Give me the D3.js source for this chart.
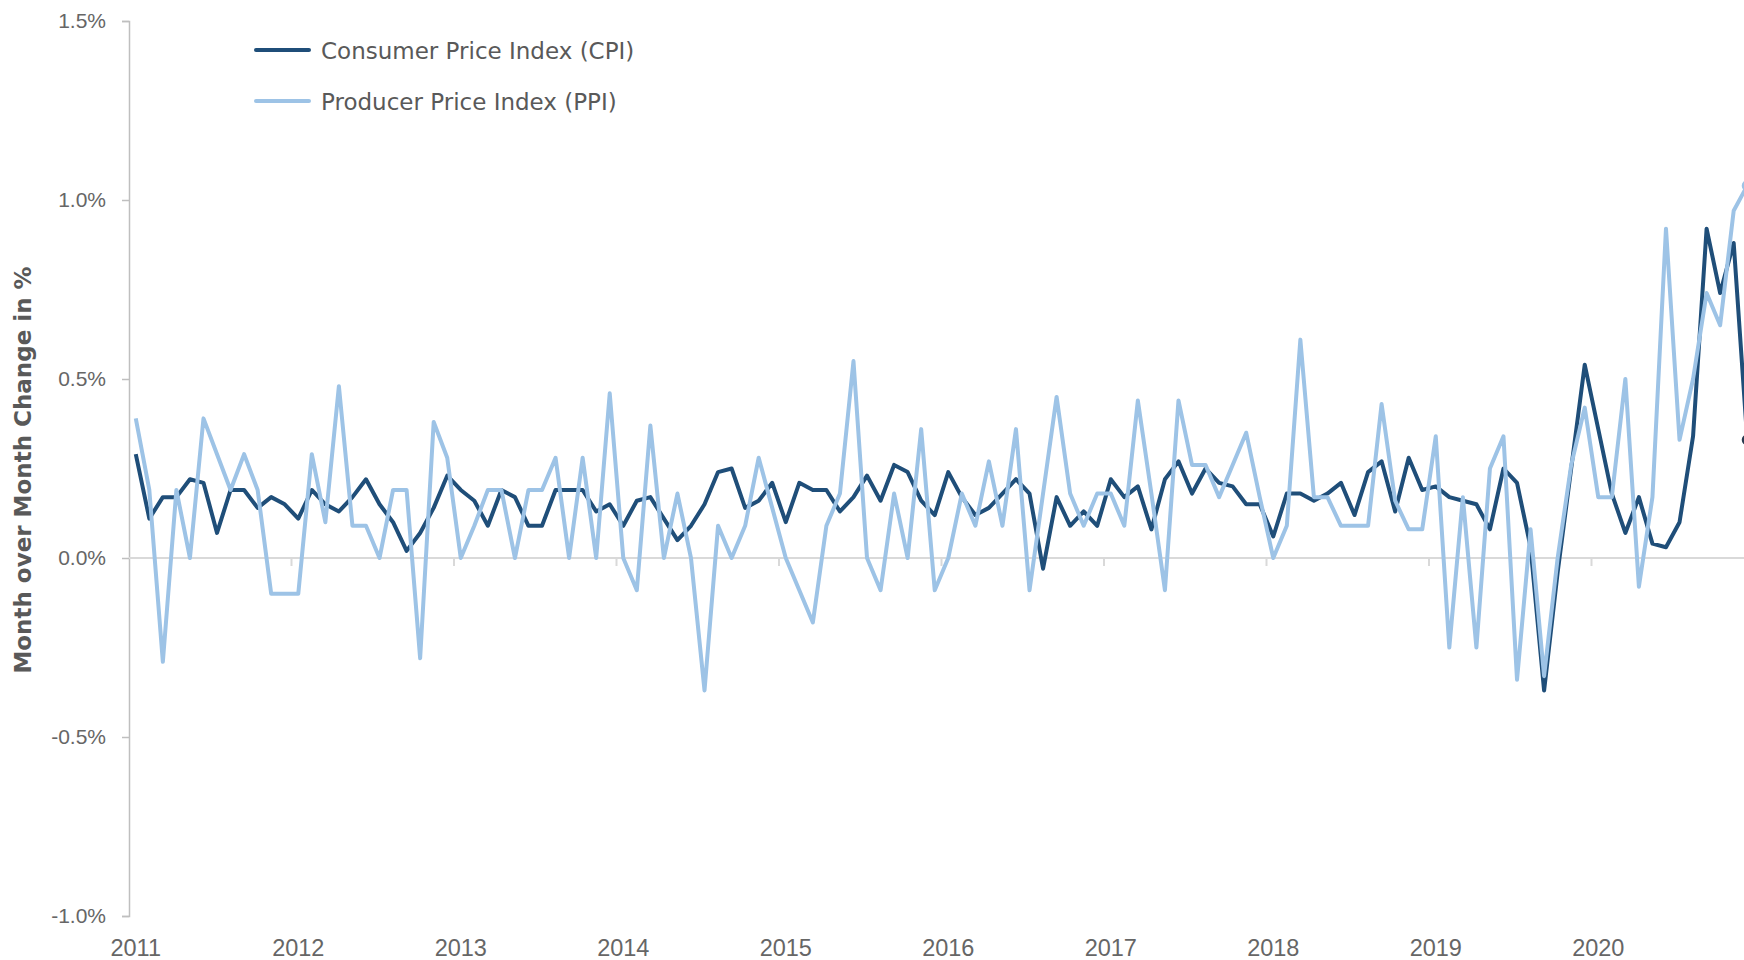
<!DOCTYPE html>
<html>
<head>
<meta charset="utf-8">
<script src="https://cdn.jsdelivr.net/npm/d3@7"></script>
<style>
  html, body { margin: 0; padding: 0; background: #ffffff; }
  svg { display: block; }
</style>
</head>
<body>
<div id="chart"></div>
<script>
// Monthly change in %, Jan 2011 .. Dec 2020
const years = ["2011", "2012", "2013", "2014", "2015", "2016", "2017", "2018", "2019", "2020"];

const cpi = [
  0.29, 0.11, 0.17, 0.17, 0.22, 0.21, 0.07, 0.19, 0.19, 0.14, 0.17, 0.15,
  0.11, 0.19, 0.15, 0.13, 0.17, 0.22, 0.15, 0.10, 0.02, 0.07, 0.14, 0.23,
  0.19, 0.16, 0.09, 0.19, 0.17, 0.09, 0.09, 0.19, 0.19, 0.19, 0.13, 0.15,
  0.09, 0.16, 0.17, 0.11, 0.05, 0.09, 0.15, 0.24, 0.25, 0.14, 0.16, 0.21,
  0.10, 0.21, 0.19, 0.19, 0.13, 0.17, 0.23, 0.16, 0.26, 0.24, 0.16, 0.12,
  0.24, 0.17, 0.12, 0.14, 0.18, 0.22, 0.18, -0.03, 0.17, 0.09, 0.13, 0.09,
  0.22, 0.17, 0.20, 0.08, 0.22, 0.27, 0.18, 0.25, 0.21, 0.20, 0.15, 0.15,
  0.06, 0.18, 0.18, 0.16, 0.18, 0.21, 0.12, 0.24, 0.27, 0.13, 0.28, 0.19,
  0.20, 0.17, 0.16, 0.15, 0.08, 0.25, 0.21, 0.03, -0.37, -0.04, 0.25, 0.54,
  0.36, 0.18, 0.07, 0.17, 0.04, 0.03, 0.10, 0.34, 0.92, 0.74, 0.88, 0.33
];

const ppi = [
  0.39, 0.19, -0.29, 0.19, 0.00, 0.39, 0.29, 0.19, 0.29, 0.19, -0.10, -0.10,
  -0.10, 0.29, 0.10, 0.48, 0.09, 0.09, 0.00, 0.19, 0.19, -0.28, 0.38, 0.28,
  0.00, 0.09, 0.19, 0.19, 0.00, 0.19, 0.19, 0.28, 0.00, 0.28, 0.00, 0.46,
  0.00, -0.09, 0.37, 0.00, 0.18, 0.00, -0.37, 0.09, 0.00, 0.09, 0.28, 0.14,
  0.00, -0.09, -0.18, 0.09, 0.18, 0.55, 0.00, -0.09, 0.18, 0.00, 0.36, -0.09,
  0.00, 0.18, 0.09, 0.27, 0.09, 0.36, -0.09, 0.18, 0.45, 0.18, 0.09, 0.18,
  0.18, 0.09, 0.44, 0.18, -0.09, 0.44, 0.26, 0.26, 0.17, 0.26, 0.35, 0.17,
  0.00, 0.09, 0.61, 0.17, 0.17, 0.09, 0.09, 0.09, 0.43, 0.16, 0.08, 0.08,
  0.34, -0.25, 0.17, -0.25, 0.25, 0.34, -0.34, 0.08, -0.33, 0.00, 0.26, 0.42,
  0.17, 0.17, 0.50, -0.08, 0.17, 0.92, 0.33, 0.50, 0.74, 0.65, 0.97, 1.04
];

const yTicks = [-1.0, -0.5, 0.0, 0.5, 1.0, 1.5];

const seriesNames = ["Consumer Price Index (CPI)", "Producer Price Index (PPI)"];
const seriesColors = ["#1f4e79", "#9dc3e6"];

// one category per month
const months = d3.range(cpi.length);

let width = 1744, height = 960;
let margin = {top: 21, bottom: 44, left: 129, right: -10};

let svg = d3.select("#chart")
  .append("svg")
  .attr("width", width)
  .attr("height", height)
  .style("font-family", "'Century Gothic', 'Liberation Sans', Arial, sans-serif");

let xScale = d3.scaleBand()
  .domain(months)
  .range([margin.left, width - margin.right]);

let yScale = d3.scaleLinear()
  .domain([-1.0, 1.5])
  .range([height - margin.bottom, margin.top]);

const xMid = i => xScale(i) + xScale.bandwidth() / 2;

// y axis
let yAxis = svg.append("g")
  .attr("transform", `translate(${margin.left},0)`)
  .call(d3.axisLeft(yScale)
    .tickValues(yTicks)
    .tickSize(7)
    .tickPadding(16)
    .tickFormat(d => d.toFixed(1) + "%"));

yAxis.select(".domain")
  .attr("stroke", "#bfbfbf")
  .attr("stroke-width", 1.5);
yAxis.selectAll(".tick line")
  .attr("stroke", "#bfbfbf")
  .attr("stroke-width", 1.5);
yAxis.selectAll(".tick text")
  .attr("fill", "#666666")
  .style("font-size", "21px")
  .style("font-family", "'Liberation Sans', Arial, sans-serif");

// zero line
svg.append("line")
  .attr("x1", margin.left)
  .attr("x2", width)
  .attr("y1", yScale(0))
  .attr("y2", yScale(0))
  .attr("stroke", "#d9d9d9")
  .attr("stroke-width", 2);

// year boundary ticks on the zero line
let yearStarts = years.map((y, k) => k * 12);
svg.selectAll(".yeartick")
  .data(yearStarts.slice(1))
  .enter()
  .append("line")
  .attr("x1", d => xScale(d))
  .attr("x2", d => xScale(d))
  .attr("y1", yScale(0))
  .attr("y2", yScale(0) + 8)
  .attr("stroke", "#d9d9d9")
  .attr("stroke-width", 2);

// year labels
svg.selectAll(".yearlabel")
  .data(years)
  .enter()
  .append("text")
  .attr("x", (d, k) => xMid(k * 12))
  .attr("y", 956)
  .attr("text-anchor", "middle")
  .attr("fill", "#666666")
  .style("font-size", "23.5px")
  .style("font-family", "'Liberation Sans', Arial, sans-serif")
  .text(d => d);

// y axis title
svg.append("text")
  .attr("transform", "rotate(-90)")
  .attr("x", -470)
  .attr("y", 31)
  .attr("text-anchor", "middle")
  .attr("fill", "#595959")
  .style("font-size", "23px")
  .style("font-weight", "bold")
  .style("font-family", "'DejaVu Sans', sans-serif")
  .text("Month over Month Change in %");

// lines
let line = d3.line()
  .x((d, i) => xMid(i))
  .y(d => yScale(d));

[cpi, ppi].forEach((values, s) => {
  svg.append("path")
    .datum(values)
    .attr("d", line)
    .attr("fill", "none")
    .attr("stroke", seriesColors[s])
    .attr("stroke-width", 4)
    .attr("stroke-linejoin", "round");
});

// end markers
svg.append("circle")
  .attr("cx", xMid(cpi.length - 1))
  .attr("cy", yScale(cpi[cpi.length - 1]))
  .attr("r", 5.5)
  .attr("fill", "#2a3a4f");
svg.append("circle")
  .attr("cx", xMid(ppi.length - 1))
  .attr("cy", yScale(ppi[ppi.length - 1]))
  .attr("r", 5.5)
  .attr("fill", "#9dc3e6");

// legend
let legend = svg.append("g")
  .attr("transform", "translate(256,50)");

seriesNames.forEach((name, i) => {
  legend.append("line")
    .attr("x1", 0)
    .attr("x2", 53)
    .attr("y1", i * 51)
    .attr("y2", i * 51)
    .attr("stroke", seriesColors[i])
    .attr("stroke-width", 4)
    .attr("stroke-linecap", "round");

  legend.append("text")
    .attr("x", 65)
    .attr("y", i * 51 + 8.5)
    .attr("fill", "#595959")
    .style("font-size", "23px")
    .style("font-family", "'DejaVu Sans', sans-serif")
    .text(name);
});
</script>
</body>
</html>
